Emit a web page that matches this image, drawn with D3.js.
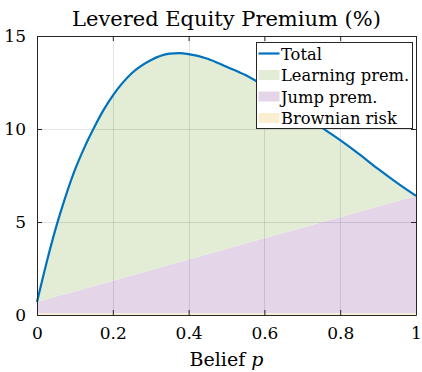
<!DOCTYPE html>
<html>
<head>
<meta charset="utf-8">
<script src="https://cdn.jsdelivr.net/npm/d3@7"></script>
<style>
  body { margin: 0; background: #fff; }
  svg text { font-family: "DejaVu Serif", "Liberation Serif", "Noto Serif", serif; fill: #000; }
</style>
</head>
<body>
<div id="chart"></div>
<script>
// belief grid
const belief = [0, 0.025, 0.05, 0.075, 0.1, 0.125, 0.15, 0.175, 0.2, 0.25, 0.3, 0.35, 0.375,
  0.4, 0.45, 0.5, 0.55, 0.6, 0.65, 0.7, 0.75, 0.8, 0.85, 0.9, 0.95, 1];
// total premium (%)
const total = [0.7, 2.8, 4.7, 6.35, 7.8, 9.0, 10.05, 11.0, 11.8, 13.0, 13.7, 14.05, 14.08,
  14.03, 13.78, 13.35, 12.9, 12.3, 11.6, 10.85, 10.1, 9.4, 8.65, 7.85, 7.1, 6.4];
// jump premium (%)
const jump = [0.6, 0.74, 0.89, 1.03, 1.17, 1.31, 1.46, 1.6, 1.74, 2.03, 2.31, 2.6, 2.74,
  2.88, 3.17, 3.45, 3.74, 4.02, 4.31, 4.59, 4.88, 5.16, 5.45, 5.73, 6.02, 6.3];
// brownian risk premium (%)
const brownian = [0.1, 0.1, 0.1, 0.1, 0.1, 0.1, 0.1, 0.1, 0.1, 0.1, 0.1, 0.1, 0.1,
  0.1, 0.1, 0.1, 0.1, 0.1, 0.1, 0.1, 0.1, 0.1, 0.1, 0.1, 0.1, 0.1];

const xTicks = [0, 0.2, 0.4, 0.6, 0.8, 1];
const yTicks = [0, 5, 10, 15];
const legendLabels = ["Total", "Learning prem.", "Jump prem.", "Brownian risk"];

const W = 422, H = 372;
const margin = { top: 36, right: 6, bottom: 57, left: 37 };
const w = W - margin.left - margin.right;
const h = H - margin.top - margin.bottom;

const svg = d3.select("#chart").append("svg").attr("width", W).attr("height", H);
const g = svg.append("g").attr("transform", "translate(" + margin.left + "," + margin.top + ")");

const x = d3.scaleLinear().domain([0, 1]).range([0, w]);
const y = d3.scaleLinear().domain([0, 15]).range([h, 0]);

const rows = belief.map((p, i) => ({ p: p, t: total[i], j: jump[i], b: brownian[i] }));

const colors = { total: "#0072bd", learn: "#e3edd5", jump: "#e4d5e8", brown: "#fbefd2" };

// stacked bands
g.append("path").datum(rows).attr("fill", colors.brown)
  .attr("d", d3.area().x(d => x(d.p)).y0(y(0)).y1(d => y(d.b)));
g.append("path").datum(rows).attr("fill", colors.jump)
  .attr("d", d3.area().x(d => x(d.p)).y0(d => y(d.b)).y1(d => y(d.b + d.j)));
g.append("path").datum(rows).attr("fill", colors.learn)
  .attr("d", d3.area().x(d => x(d.p)).y0(d => y(d.b + d.j)).y1(d => y(d.t)).curve(d3.curveMonotoneX));

// grid on top of the patches
const grid = g.append("g").attr("stroke", "#262626").attr("stroke-opacity", 0.13).attr("stroke-width", 1);
grid.selectAll(".gx").data(xTicks.slice(1, -1)).enter().append("line")
  .attr("x1", d => Math.round(x(d)) + 0.5).attr("x2", d => Math.round(x(d)) + 0.5)
  .attr("y1", 0).attr("y2", h);
grid.selectAll(".gy").data(yTicks.slice(1, -1)).enter().append("line")
  .attr("y1", d => Math.round(y(d)) + 0.5).attr("y2", d => Math.round(y(d)) + 0.5)
  .attr("x1", 0).attr("x2", w);

// total line
g.append("path").datum(rows)
  .attr("fill", "none").attr("stroke", colors.total).attr("stroke-width", 2.2)
  .attr("d", d3.line().x(d => x(d.p)).y(d => y(d.t)).curve(d3.curveMonotoneX));

// axes, box style with inward ticks on all sides
const tickLen = 5;
const axStyle = sel => {
  sel.attr("font-family", null);
  sel.select(".domain").attr("stroke", "#262626");
  sel.selectAll(".tick line").attr("stroke", "#262626");
  sel.selectAll("text").style("font-size", "17px").attr("fill", "#000");
};
g.append("g").attr("transform", "translate(0," + h + ")")
  .call(d3.axisBottom(x).tickValues(xTicks).tickFormat(d3.format("")).tickSizeInner(-tickLen).tickSizeOuter(0).tickPadding(12))
  .call(axStyle);
g.append("g")
  .call(d3.axisLeft(y).tickValues(yTicks).tickSizeInner(-tickLen).tickSizeOuter(0).tickPadding(11))
  .call(axStyle);
g.append("g")
  .call(d3.axisTop(x).tickValues(xTicks).tickFormat("").tickSizeInner(-tickLen).tickSizeOuter(0))
  .call(axStyle);
g.append("g").attr("transform", "translate(" + w + ",0)")
  .call(d3.axisRight(y).tickValues(yTicks).tickFormat("").tickSizeInner(-tickLen).tickSizeOuter(0))
  .call(axStyle);

// title and x label
svg.append("text").attr("x", margin.left + w / 2).attr("y", 26)
  .attr("text-anchor", "middle").style("font-size", "21px")
  .text("Levered Equity Premium (%)");
const xl = svg.append("text").attr("x", margin.left + w / 2).attr("y", 366)
  .attr("text-anchor", "middle").style("font-size", "19px");
xl.append("tspan").text("Belief ");
xl.append("tspan").style("font-style", "italic").text("p");

// legend
const lg = svg.append("g").attr("transform", "translate(256.5,42.5)");
lg.append("rect").attr("width", 156).attr("height", 86)
  .attr("fill", "#fff").attr("stroke", "#262626").attr("stroke-width", 1);
const swatch = [colors.total, colors.learn, colors.jump, colors.brown];
legendLabels.forEach((lab, i) => {
  const cy = 11 + i * 21.5;
  if (i === 0) {
    lg.append("line").attr("x1", 2).attr("x2", 23).attr("y1", cy).attr("y2", cy)
      .attr("stroke", swatch[i]).attr("stroke-width", 2.2);
  } else {
    lg.append("rect").attr("x", 2).attr("y", cy - 5).attr("width", 21).attr("height", 10).attr("fill", swatch[i]);
  }
  lg.append("text").attr("x", 24.5).attr("y", cy + 6).style("font-size", "16.3px").text(lab);
});
</script>
</body>
</html>
